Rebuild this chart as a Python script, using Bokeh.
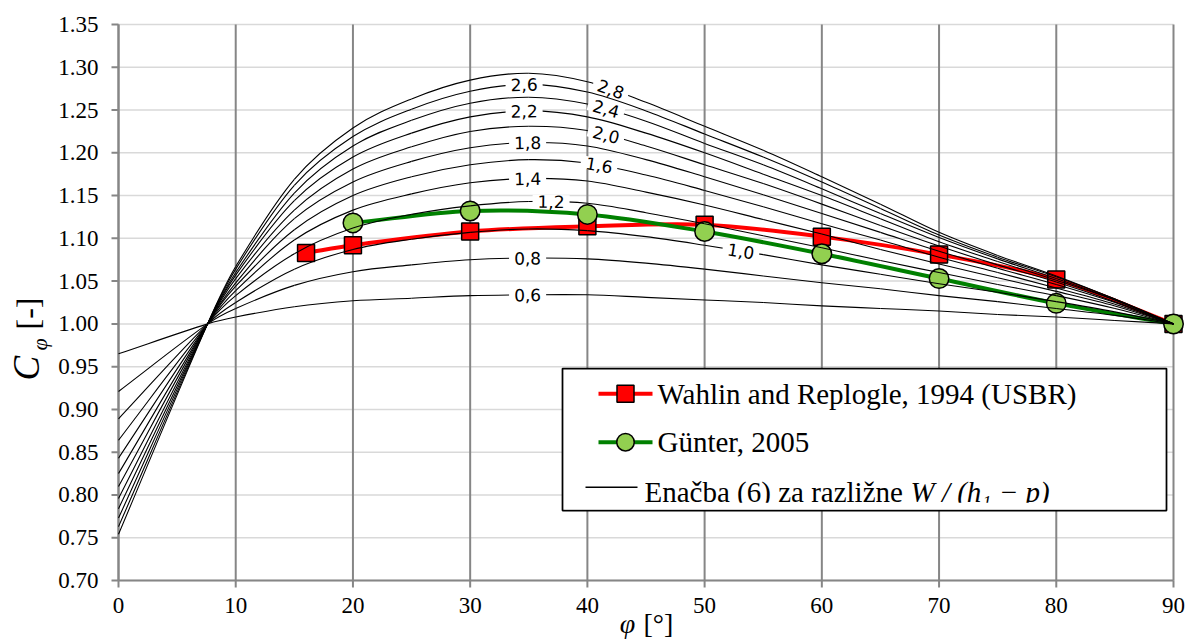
import numpy as np
from bokeh.plotting import figure
from bokeh.models import Label, Range1d
from bokeh.embed import file_html
from bokeh.resources import INLINE
from bokeh.core.properties import value

# ---------------------------------------------------------------- data
# Wahlin and Replogle, 1994 (USBR)
phi_usbr = [16, 20, 30, 40, 50, 60, 70, 80, 90]
c_usbr = [1.083, 1.092, 1.108, 1.114, 1.116, 1.102, 1.081, 1.052, 1.000]

# Günter, 2005
phi_gunter = [20, 30, 40, 50, 60, 70, 80, 90]
c_gunter = [1.118, 1.132, 1.128, 1.108, 1.082, 1.053, 1.024, 1.000]

# Equation (6) for several W/(h1-p)
phi_eq = [0, 7.6, 10, 15, 20, 25, 30, 35, 40, 45, 50, 55, 60, 65, 70, 75, 80, 85, 90]
c_eq_06 = [0.965, 1.000, 1.008, 1.020, 1.027, 1.030, 1.033, 1.034, 1.034, 1.031, 1.028, 1.025, 1.021, 1.018, 1.015, 1.011, 1.008, 1.004, 1.000]
c_eq_08 = [0.921, 1.000, 1.018, 1.045, 1.061, 1.069, 1.075, 1.077, 1.076, 1.071, 1.064, 1.056, 1.048, 1.041, 1.033, 1.026, 1.018, 1.010, 1.000]
c_eq_10 = [0.889, 1.000, 1.025, 1.064, 1.087, 1.099, 1.107, 1.111, 1.109, 1.102, 1.092, 1.081, 1.069, 1.058, 1.047, 1.037, 1.026, 1.014, 1.000]
c_eq_12 = [0.864, 1.000, 1.033, 1.082, 1.112, 1.128, 1.138, 1.143, 1.141, 1.130, 1.117, 1.103, 1.089, 1.074, 1.060, 1.046, 1.033, 1.018, 1.000]
c_eq_14 = [0.843, 1.000, 1.039, 1.098, 1.133, 1.152, 1.165, 1.170, 1.167, 1.154, 1.139, 1.122, 1.105, 1.087, 1.070, 1.054, 1.038, 1.021, 1.000]
c_eq_16 = [0.825, 1.000, 1.044, 1.110, 1.150, 1.172, 1.186, 1.192, 1.188, 1.174, 1.156, 1.137, 1.117, 1.098, 1.078, 1.060, 1.042, 1.023, 1.000]
c_eq_18 = [0.810, 1.000, 1.048, 1.123, 1.166, 1.190, 1.206, 1.212, 1.208, 1.192, 1.172, 1.151, 1.129, 1.107, 1.085, 1.065, 1.046, 1.025, 1.000]
c_eq_20 = [0.796, 1.000, 1.053, 1.133, 1.181, 1.207, 1.225, 1.231, 1.226, 1.208, 1.186, 1.164, 1.140, 1.115, 1.091, 1.069, 1.049, 1.026, 1.000]
c_eq_22 = [0.784, 1.000, 1.057, 1.144, 1.195, 1.223, 1.242, 1.249, 1.242, 1.223, 1.200, 1.175, 1.150, 1.123, 1.096, 1.073, 1.051, 1.028, 1.000]
c_eq_24 = [0.773, 1.000, 1.060, 1.153, 1.208, 1.238, 1.258, 1.265, 1.257, 1.237, 1.211, 1.186, 1.158, 1.129, 1.101, 1.076, 1.053, 1.028, 1.000]
c_eq_26 = [0.763, 1.000, 1.064, 1.162, 1.219, 1.251, 1.272, 1.280, 1.271, 1.249, 1.222, 1.195, 1.166, 1.135, 1.104, 1.078, 1.055, 1.029, 1.000]
c_eq_28 = [0.754, 1.000, 1.067, 1.169, 1.229, 1.263, 1.285, 1.293, 1.283, 1.259, 1.231, 1.203, 1.172, 1.140, 1.107, 1.080, 1.056, 1.029, 1.000]

eq_curves = [c_eq_06, c_eq_08, c_eq_10, c_eq_12, c_eq_14, c_eq_16,
             c_eq_18, c_eq_20, c_eq_22, c_eq_24, c_eq_26, c_eq_28]
eq_labels = ["0,6", "0,8", "1,0", "1,2", "1,4", "1,6",
             "1,8", "2,0", "2,2", "2,4", "2,6", "2,8"]
# where along each curve its label sits (angle φ)
eq_label_phi = [34.9, 34.9, 53.1, 36.9, 34.9, 41.0, 34.9, 41.6, 34.6, 41.6, 34.6, 42.0]

x_ticks = list(range(0, 91, 10))
y_ticks = [round(0.70 + 0.05 * i, 2) for i in range(14)]
x_tick_labels = [str(t) for t in x_ticks]
y_tick_labels = [f"{t:.2f}" for t in y_ticks]

# ---------------------------------------------------------------- layout
W, H = 1186, 641
PLOT_L, PLOT_R, PLOT_T, PLOT_B = 118, 1173, 24, 580   # plot area in pixels
X_LO, X_HI = 0, 90
Y_LO, Y_HI = 0.70, 1.35
PX_X = (PLOT_R - PLOT_L) / (X_HI - X_LO)
PX_Y = (PLOT_B - PLOT_T) / (Y_HI - Y_LO)


def dx(px):
    return X_LO + (px - PLOT_L) / PX_X


def dy(py):
    return Y_LO + (PLOT_B - py) / PX_Y


def slopes(xs, ys):
    xs = np.asarray(xs, float)
    ys = np.asarray(ys, float)
    m = np.empty_like(ys)
    m[1:-1] = (ys[2:] - ys[:-2]) / (xs[2:] - xs[:-2])
    m[0] = (ys[1] - ys[0]) / (xs[1] - xs[0])
    m[-1] = (ys[-1] - ys[-2]) / (xs[-1] - xs[-2])
    return xs, ys, m


def smooth_segments(xs, ys):
    """Cubic Hermite pieces as Bezier control points (smoothed line)."""
    xs, ys, m = slopes(xs, ys)
    h = np.diff(xs)
    return dict(x0=xs[:-1], y0=ys[:-1], x1=xs[1:], y1=ys[1:],
                cx0=xs[:-1] + h / 3, cy0=ys[:-1] + m[:-1] * h / 3,
                cx1=xs[1:] - h / 3, cy1=ys[1:] - m[1:] * h / 3)


def smooth_at(xs, ys, x):
    xs, ys, m = slopes(xs, ys)
    i = int(np.clip(np.searchsorted(xs, x) - 1, 0, len(xs) - 2))
    h = xs[i + 1] - xs[i]
    t = (x - xs[i]) / h
    y = ((2 * t**3 - 3 * t**2 + 1) * ys[i] + (t**3 - 2 * t**2 + t) * h * m[i]
         + (-2 * t**3 + 3 * t**2) * ys[i + 1] + (t**3 - t**2) * h * m[i + 1])
    d = ((6 * t**2 - 6 * t) * ys[i] + (3 * t**2 - 4 * t + 1) * h * m[i]
         + (-6 * t**2 + 6 * t) * ys[i + 1] + (3 * t**2 - 2 * t) * h * m[i + 1]) / h
    return y, d


SERIF = "Liberation Serif"
AXIS_GREY = "#868686"

# the frame covers the whole canvas; the plot area sits inside it
p = figure(width=W, height=H,
           x_range=Range1d(dx(0), dx(W)), y_range=Range1d(dy(H), dy(0)),
           x_axis_type=None, y_axis_type=None,
           output_backend="svg", toolbar_location=None, min_border=0)
p.outline_line_color = None
p.background_fill_color = "white"
p.border_fill_color = "white"


def serif_text(x, y, txt, size, align="left", style="normal", angle=0.0):
    p.text(x, y, text=txt, text_font=value(SERIF), text_font_size=size,
           text_font_style=style, text_color="black", text_align=align,
           text_baseline="middle", angle=angle)


# gridlines
p.segment(x0=[X_LO] * len(y_ticks), y0=y_ticks, x1=[X_HI] * len(y_ticks), y1=y_ticks,
          line_color="#d9d9d9", line_width=1.5)
p.segment(x0=x_ticks, y0=[Y_LO] * len(x_ticks), x1=x_ticks, y1=[Y_HI] * len(x_ticks),
          line_color=AXIS_GREY, line_width=2)

# axes, ticks and tick labels
tick = 7
p.segment(x0=[X_LO, X_LO], y0=[Y_LO, Y_LO], x1=[X_LO, X_HI], y1=[Y_HI, Y_LO],
          line_color=AXIS_GREY, line_width=2)
p.segment(x0=[X_LO] * len(y_ticks), y0=y_ticks, x1=[dx(PLOT_L - tick)] * len(y_ticks), y1=y_ticks,
          line_color=AXIS_GREY, line_width=2)
p.segment(x0=x_ticks, y0=[Y_LO] * len(x_ticks), x1=x_ticks, y1=[dy(PLOT_B + tick)] * len(x_ticks),
          line_color=AXIS_GREY, line_width=2)
serif_text([dx(98)] * len(y_ticks), y_ticks, y_tick_labels, "23px", align="right")
serif_text(x_ticks, [dy(605)] * len(x_ticks), x_tick_labels, "23px", align="center")

# measured series
p.bezier(**smooth_segments(phi_usbr, c_usbr), line_color="#ff0000", line_width=4, line_cap="round")
p.scatter(phi_usbr, c_usbr, marker="square", size=17, fill_color="#ff0000",
          line_color="black", line_width=1.5)
p.bezier(**smooth_segments(phi_gunter, c_gunter), line_color="#008000", line_width=4, line_cap="round")
p.scatter(phi_gunter, c_gunter, marker="circle", size=19.5, fill_color="#92d050",
          line_color="black", line_width=1.5)

# equation (6) family
for c in eq_curves:
    p.bezier(**smooth_segments(phi_eq, c), line_color="black", line_width=1.1)

for c, txt, ph in zip(eq_curves, eq_labels, eq_label_phi):
    yv, sl = smooth_at(phi_eq, c, ph)
    ang = np.arctan(sl * PX_Y / PX_X)
    p.add_layout(Label(x=ph, y=yv, text=txt, angle=float(ang),
                       text_font="DejaVu Sans", text_font_size="17px",
                       text_align="center", text_baseline="middle",
                       text_color="black", background_fill_color="white",
                       padding=dict(x=5, y=0)))

# legend
LEG_L, LEG_R, LEG_T, LEG_B = 562, 1166, 368, 510
p.quad(left=[dx(LEG_L)], right=[dx(LEG_R)], top=[dy(LEG_T)], bottom=[dy(LEG_B)],
       fill_color="white", line_color="black", line_width=1.75)

p.line([dx(598), dx(652)], [dy(393.3)] * 2, line_color="#ff0000", line_width=4)
p.scatter([dx(625)], [dy(393.3)], marker="square", size=17, fill_color="#ff0000",
          line_color="black", line_width=1.5)
serif_text([dx(657)], [dy(393.3)], ["Wahlin and Replogle, 1994 (USBR)"], "29px")

p.line([dx(598), dx(652)], [dy(441.7)] * 2, line_color="#008000", line_width=4)
p.scatter([dx(625)], [dy(441.7)], marker="circle", size=17.5, fill_color="#92d050",
          line_color="black", line_width=1.5)
serif_text([dx(657)], [dy(441.7)], ["Günter, 2005"], "29px")

p.line([dx(585), dx(637)], [dy(486.7)] * 2, line_color="black", line_width=1.5)
serif_text([dx(644)], [dy(491.9)], ["Enačba (6) za razližne"], "29px")
serif_text([dx(910)], [dy(491.9)], ["W / (h₁ − p)"], "29px", style="italic")
# last legend row is cut off by the legend's lower edge
p.quad(left=[dx(LEG_L + 2)], right=[dx(LEG_R - 2)], top=[dy(502.3)], bottom=[dy(508.8)],
       fill_color="white", line_color=None)

# axis titles
serif_text([dx(26)], [dy(380)], ["C"], "37px", style="italic", angle=np.pi / 2)
serif_text([dx(39)], [dy(350)], ["φ"], "22px", style="italic", angle=np.pi / 2)
serif_text([dx(27.5)], [dy(329)], ["[-]"], "32px", angle=np.pi / 2)
serif_text([dx(627)], [dy(622.7)], ["φ"], "28px", align="center", style="italic")
serif_text([dx(643)], [dy(622.7)], ["[°]"], "28px")

open("out.html", "w").write(file_html(p, INLINE))
